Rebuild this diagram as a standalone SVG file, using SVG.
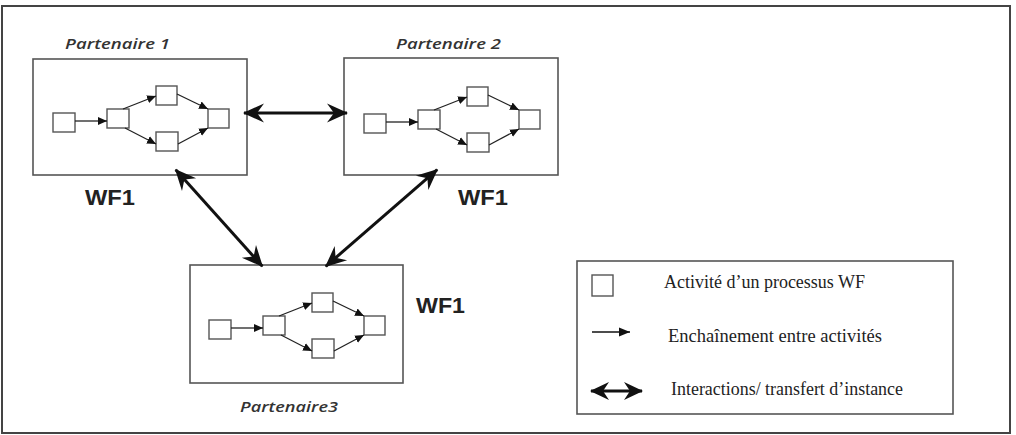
<svg xmlns="http://www.w3.org/2000/svg" xmlns:xlink="http://www.w3.org/1999/xlink" width="1016" height="435" viewBox="0 0 1016 435">
<style>
.frame{fill:#fff;stroke:#444;stroke-width:2}
.box{fill:#fff;stroke:#555;stroke-width:1.6}
.act{fill:#fff;stroke:#555;stroke-width:1.4}
.flow{stroke:#222;stroke-width:1.3;fill:none;marker-end:url(#small)}
.inter{stroke:#111;stroke-width:3;fill:none;marker-start:url(#big);marker-end:url(#big)}
.part{font-family:"Open Sans","Liberation Sans",sans-serif;font-style:italic;font-weight:600;font-size:15px;fill:#333}
.wf{font-family:"Liberation Sans",Arial,sans-serif;font-weight:bold;font-size:22px;fill:#222}
.leg{font-family:"Liberation Serif","Times New Roman",serif;font-size:18.5px;fill:#222}
</style>
<defs>
<marker id="small" markerUnits="userSpaceOnUse" viewBox="0 -5 9 10" refX="9" refY="0" markerWidth="9" markerHeight="10" orient="auto">
<path d="M0,-4 L9,0 L0,4 Z" fill="#111"/>
</marker>
<marker id="big" markerUnits="userSpaceOnUse" viewBox="-3 -11 24 22" refX="18" refY="0" markerWidth="24" markerHeight="22" orient="auto-start-reverse">
<path d="M-2,-9.5 L19,0 L-2,9.5 L5,0 Z" fill="#111"/>
</marker>
<marker id="legbig" markerUnits="userSpaceOnUse" viewBox="-3 -11 22 22" refX="16" refY="0" markerWidth="22" markerHeight="22" orient="auto-start-reverse">
<path d="M-2,-9 L17,0 L-2,9 L4,0 Z" fill="#111"/>
</marker>
<marker id="legsmall" markerUnits="userSpaceOnUse" viewBox="0 -6 11 12" refX="11" refY="0" markerWidth="11" markerHeight="12" orient="auto">
<path d="M0,-4.5 L11,0 L0,4.5 Z" fill="#111"/>
</marker>
<g id="wfproc">
<rect class="act" x="53" y="113" width="22" height="19"/>
<rect class="act" x="107" y="109" width="22" height="19"/>
<rect class="act" x="156" y="86" width="21" height="19"/>
<rect class="act" x="156" y="132" width="22" height="19"/>
<rect class="act" x="208" y="109" width="21" height="19"/>
<line class="flow" x1="75" y1="121" x2="107" y2="121"/>
<line class="flow" x1="123" y1="109" x2="156" y2="96"/>
<line class="flow" x1="177" y1="94" x2="208" y2="109"/>
<line class="flow" x1="125" y1="128" x2="156" y2="144"/>
<line class="flow" x1="178" y1="144" x2="208" y2="128"/>
</g>
</defs>
<rect class="frame" x="2" y="6" width="1008" height="427"/>
<g id="partenaire1">
<rect class="box" x="33" y="59" width="214" height="116"/>
<use xlink:href="#wfproc"/>
<text class="part" x="65" y="49" textLength="105" lengthAdjust="spacingAndGlyphs">Partenaire 1</text>
<text class="wf" x="85" y="205" textLength="50" lengthAdjust="spacingAndGlyphs">WF1</text>
</g>
<g id="partenaire2">
<rect class="box" x="344" y="58" width="214" height="117"/>
<use xlink:href="#wfproc" transform="translate(311,1)"/>
<text class="part" x="396" y="49" textLength="105" lengthAdjust="spacingAndGlyphs">Partenaire 2</text>
<text class="wf" x="458" y="205" textLength="50" lengthAdjust="spacingAndGlyphs">WF1</text>
</g>
<g id="partenaire3">
<rect class="box" x="190" y="265" width="213" height="118"/>
<use xlink:href="#wfproc" transform="translate(156,207)"/>
<text class="part" x="240" y="412" textLength="98" lengthAdjust="spacingAndGlyphs">Partenaire3</text>
<text class="wf" x="416" y="313" textLength="49" lengthAdjust="spacingAndGlyphs">WF1</text>
</g>
<g id="connectors">
<line class="inter" x1="244" y1="113" x2="347" y2="113"/>
<line class="inter" x1="175.7" y1="169.8" x2="262.3" y2="266.2"/>
<line class="inter" x1="437.2" y1="169.7" x2="325.8" y2="266.3"/>
</g>
<g id="legend">
<rect class="box" x="577" y="261" width="376" height="153"/>
<rect class="act" x="592" y="275" width="21" height="21"/>
<text class="leg" x="664" y="288" textLength="201" lengthAdjust="spacingAndGlyphs">Activité d’un processus WF</text>
<line x1="592" y1="332" x2="630" y2="332" stroke="#111" stroke-width="1.6" marker-end="url(#legsmall)"/>
<text class="leg" x="668" y="342" textLength="214" lengthAdjust="spacingAndGlyphs">Enchaînement entre activités</text>
<line x1="591" y1="391" x2="642" y2="391" stroke="#111" stroke-width="3.2" marker-start="url(#legbig)" marker-end="url(#legbig)"/>
<text class="leg" x="671" y="395" textLength="232" lengthAdjust="spacingAndGlyphs">Interactions/ transfert d’instance</text>
</g>
</svg>
